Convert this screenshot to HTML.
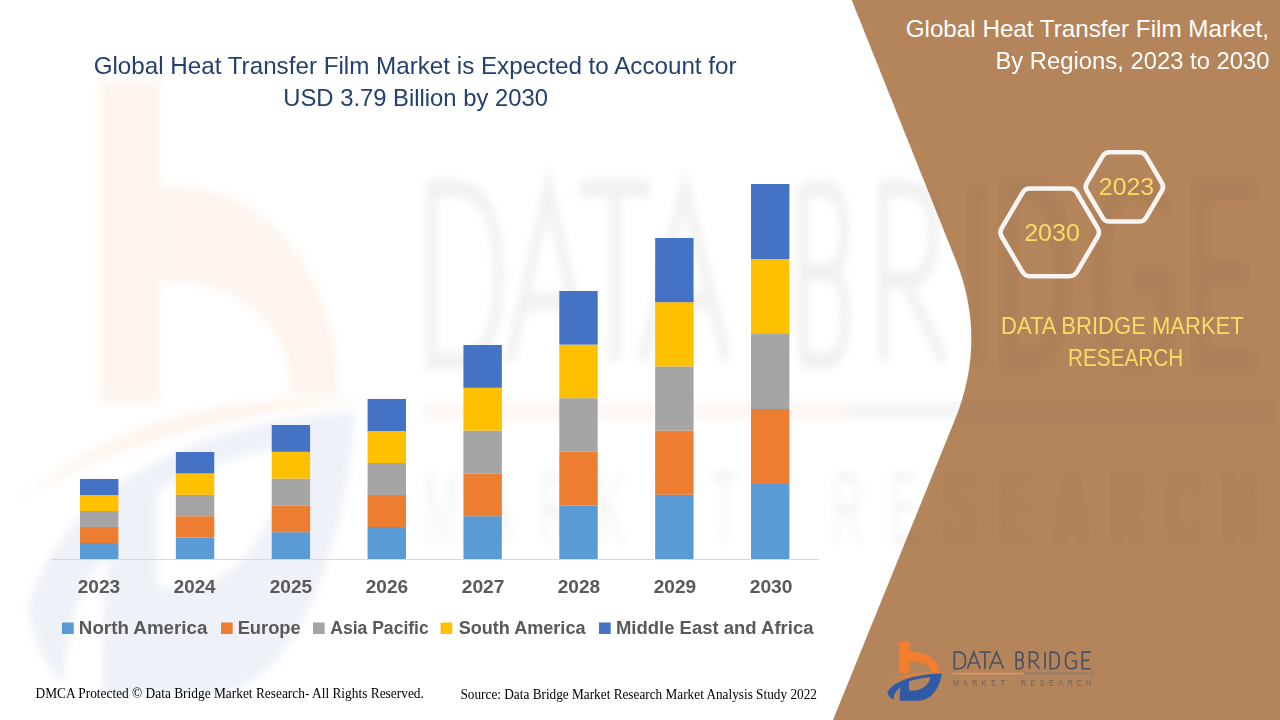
<!DOCTYPE html>
<html><head><meta charset="utf-8">
<style>
html,body{margin:0;padding:0;background:#fff;width:1280px;height:720px;overflow:hidden}
svg{display:block}
</style></head>
<body>
<svg width="1280" height="720" viewBox="0 0 1280 720">
<defs>
<filter id="wmblur" x="-5%" y="-5%" width="110%" height="110%"><feGaussianBlur stdDeviation="4"/></filter>
<g id="logo">
<rect x="899.4" y="641.7" width="10" height="31" fill="#F47E2E"/>
<path d="M909.4,652 C926,651 939,660 939,672 L931,672 C931,665 923,661 909.4,661 Z" fill="#F47E2E"/>
<path d="M885,682.5 C900,675 920,671.5 944,672.5 C920,674 900,677 885,682.5 Z" fill="#F47E2E"/>
<path fill-rule="evenodd" fill="#2F5AA6" d="M887.3,692.6 C893,681 915,674.5 941.8,673.6 C940,688 931,700.8 918,700.8 L899.7,700.8 C899.5,696 900,691 900.7,687.5 C896,690 893.5,695 893.5,700 C890,698 888,695.5 887.3,692.6 Z M908.9,681.3 C916,679 924,677.5 930.5,677.2 C928.5,685.5 922,690.6 912,690.6 L908.9,690.6 Z"/>

<rect x="952.9" y="672.8" width="70.8" height="1.5" fill="#E8956A"/>
<rect x="1023.7" y="672.8" width="70.2" height="1.5" fill="#7B7F8E"/>
<g font-family="Liberation Sans" font-size="9.8" fill="#6A6565" text-anchor="middle">
<text transform="translate(956 686.3) scale(0.72 1)">M</text><text transform="translate(965.4 686.3) scale(0.72 1)">A</text><text transform="translate(974.8 686.3) scale(0.72 1)">R</text><text transform="translate(984.2 686.3) scale(0.72 1)">K</text><text transform="translate(993.6 686.3) scale(0.72 1)">E</text><text transform="translate(1003 686.3) scale(0.72 1)">T</text>
<text transform="translate(1023.5 686.3) scale(0.72 1)">R</text><text transform="translate(1032.8 686.3) scale(0.72 1)">E</text><text transform="translate(1042.1 686.3) scale(0.72 1)">S</text><text transform="translate(1051.4 686.3) scale(0.72 1)">E</text><text transform="translate(1060.7 686.3) scale(0.72 1)">A</text><text transform="translate(1070 686.3) scale(0.72 1)">R</text><text transform="translate(1079.3 686.3) scale(0.72 1)">C</text><text transform="translate(1088.6 686.3) scale(0.72 1)">H</text>
</g>

</g>
</defs>
<rect width="1280" height="720" fill="#FFFFFF"/>
<path d="M851.7,0 L1280,0 L1280,720 L833,720 L954.8,420 Q987.5,339.5 955.7,260 Z" fill="#B4845A"/>

<g opacity="0.08" filter="url(#wmblur)"><g transform="matrix(6.02 0 0 10.37 -5314 -6574)"><use href="#logo"/><g fill="none" stroke="#505358" stroke-width="1.65" stroke-linejoin="miter">
<path d="M954.35,652.15 L958.5,652.15 C963.5,652.15 965.55,655.5 965.55,660.45 C965.55,665.4 963.5,668.75 958.5,668.75 L954.35,668.75 Z"/>
<path d="M967.4,668.75 L973.8,652.15 L980.2,668.75 M969.9,663 L977.7,663"/>
<path d="M979.1,652.15 L990.7,652.15 M984.9,652.15 L984.9,668.75"/>
<path d="M989.5,668.75 L996.5,652.15 L1003.5,668.75 M992,663 L1001,663"/>
<path d="M1016.15,652.15 L1016.15,668.75 M1016.15,652.15 L1019.5,652.15 C1022,652.15 1023,654 1023,656.3 C1023,658.7 1021.8,660.2 1019.5,660.2 L1016.15,660.2 M1016.15,660.2 L1019.8,660.2 C1022.5,660.2 1023.15,662.3 1023.15,664.5 C1023.15,667 1022,668.75 1019.5,668.75 L1016.15,668.75"/>
<path d="M1029.45,668.75 L1029.45,652.15 L1033.5,652.15 C1036.5,652.15 1037.8,654.2 1037.8,656.5 C1037.8,659 1036.3,661 1033.5,661 L1029.45,661 M1033,661 L1039.6,668.75"/>
<path d="M1045.05,652.15 L1045.05,668.75"/>
<path d="M1050.35,652.15 L1053.5,652.15 C1057.5,652.15 1059.25,655.5 1059.25,660.45 C1059.25,665.4 1057.5,668.75 1053.5,668.75 L1050.35,668.75 Z"/>
<path d="M1076,654.5 C1074.8,652.8 1073,652.15 1071,652.15 C1067,652.15 1065.45,655.8 1065.45,660.45 C1065.45,665.2 1067,668.75 1071,668.75 C1073.5,668.75 1076.25,667.8 1076.25,667 L1076.25,661 L1071.5,661"/>
<path d="M1090.9,652.15 L1082.25,652.15 L1082.25,668.75 L1090.9,668.75 M1082.25,660.3 L1089.5,660.3"/>
</g></g></g>

<rect x="80.0" y="543.00" width="38.4" height="16.00" fill="#5B9BD5"/>
<rect x="80.0" y="527.00" width="38.4" height="16.00" fill="#ED7D31"/>
<rect x="80.0" y="511.00" width="38.4" height="16.00" fill="#A5A5A5"/>
<rect x="80.0" y="495.00" width="38.4" height="16.00" fill="#FFC000"/>
<rect x="80.0" y="479.00" width="38.4" height="16.00" fill="#4472C4"/>
<rect x="175.86" y="537.60" width="38.4" height="21.40" fill="#5B9BD5"/>
<rect x="175.86" y="516.20" width="38.4" height="21.40" fill="#ED7D31"/>
<rect x="175.86" y="494.80" width="38.4" height="21.40" fill="#A5A5A5"/>
<rect x="175.86" y="473.40" width="38.4" height="21.40" fill="#FFC000"/>
<rect x="175.86" y="452.00" width="38.4" height="21.40" fill="#4472C4"/>
<rect x="271.72" y="532.20" width="38.4" height="26.80" fill="#5B9BD5"/>
<rect x="271.72" y="505.40" width="38.4" height="26.80" fill="#ED7D31"/>
<rect x="271.72" y="478.60" width="38.4" height="26.80" fill="#A5A5A5"/>
<rect x="271.72" y="451.80" width="38.4" height="26.80" fill="#FFC000"/>
<rect x="271.72" y="425.00" width="38.4" height="26.80" fill="#4472C4"/>
<rect x="367.58" y="527.00" width="38.4" height="32.00" fill="#5B9BD5"/>
<rect x="367.58" y="495.00" width="38.4" height="32.00" fill="#ED7D31"/>
<rect x="367.58" y="463.00" width="38.4" height="32.00" fill="#A5A5A5"/>
<rect x="367.58" y="431.00" width="38.4" height="32.00" fill="#FFC000"/>
<rect x="367.58" y="399.00" width="38.4" height="32.00" fill="#4472C4"/>
<rect x="463.44" y="516.20" width="38.4" height="42.80" fill="#5B9BD5"/>
<rect x="463.44" y="473.40" width="38.4" height="42.80" fill="#ED7D31"/>
<rect x="463.44" y="430.60" width="38.4" height="42.80" fill="#A5A5A5"/>
<rect x="463.44" y="387.80" width="38.4" height="42.80" fill="#FFC000"/>
<rect x="463.44" y="345.00" width="38.4" height="42.80" fill="#4472C4"/>
<rect x="559.3" y="505.40" width="38.4" height="53.60" fill="#5B9BD5"/>
<rect x="559.3" y="451.80" width="38.4" height="53.60" fill="#ED7D31"/>
<rect x="559.3" y="398.20" width="38.4" height="53.60" fill="#A5A5A5"/>
<rect x="559.3" y="344.60" width="38.4" height="53.60" fill="#FFC000"/>
<rect x="559.3" y="291.00" width="38.4" height="53.60" fill="#4472C4"/>
<rect x="655.16" y="494.80" width="38.4" height="64.20" fill="#5B9BD5"/>
<rect x="655.16" y="430.60" width="38.4" height="64.20" fill="#ED7D31"/>
<rect x="655.16" y="366.40" width="38.4" height="64.20" fill="#A5A5A5"/>
<rect x="655.16" y="302.20" width="38.4" height="64.20" fill="#FFC000"/>
<rect x="655.16" y="238.00" width="38.4" height="64.20" fill="#4472C4"/>
<rect x="751.02" y="484.00" width="38.4" height="75.00" fill="#5B9BD5"/>
<rect x="751.02" y="409.00" width="38.4" height="75.00" fill="#ED7D31"/>
<rect x="751.02" y="334.00" width="38.4" height="75.00" fill="#A5A5A5"/>
<rect x="751.02" y="259.00" width="38.4" height="75.00" fill="#FFC000"/>
<rect x="751.02" y="184.00" width="38.4" height="75.00" fill="#4472C4"/>
<rect x="51" y="559" width="768" height="1" fill="#D9D9D9"/>
<rect x="62" y="622.5" width="11.7" height="11.5" fill="#5B9BD5"/>
<rect x="221" y="622.5" width="11.7" height="11.5" fill="#ED7D31"/>
<rect x="313" y="622.5" width="11.7" height="11.5" fill="#A5A5A5"/>
<rect x="440.6" y="622.5" width="11.7" height="11.5" fill="#FFC000"/>
<rect x="599" y="622.5" width="11.7" height="11.5" fill="#4472C4"/>
<g fill="none" stroke="#F7F4F1" stroke-width="4.6">
<path d="M1001.74,236.71 Q999.20,232.40 1001.73,228.09 L1022.47,192.81 Q1025.00,188.50 1030.00,188.50 L1069.40,188.50 Q1074.40,188.50 1076.93,192.81 L1097.67,228.09 Q1100.20,232.40 1097.66,236.71 L1076.94,271.89 Q1074.40,276.20 1069.40,276.20 L1030.00,276.20 Q1025.00,276.20 1022.46,271.89 Z"/>
<path d="M1086.79,190.78 Q1084.50,186.90 1086.78,183.02 L1102.62,156.08 Q1104.90,152.20 1109.40,152.20 L1139.30,152.20 Q1143.80,152.20 1146.08,156.08 L1161.92,183.02 Q1164.20,186.90 1161.91,190.78 L1146.09,217.62 Q1143.80,221.50 1139.30,221.50 L1109.40,221.50 Q1104.90,221.50 1102.61,217.62 Z"/>
</g>

<use href="#logo"/>
<g fill="none" stroke="#4A5160" stroke-width="1.7" stroke-linejoin="miter">
<path d="M954.35,652.15 L958.5,652.15 C963.5,652.15 965.55,655.5 965.55,660.45 C965.55,665.4 963.5,668.75 958.5,668.75 L954.35,668.75 Z"/>
<path d="M967.4,668.75 L973.8,652.15 L980.2,668.75 M969.9,663 L977.7,663"/>
<path d="M979.1,652.15 L990.7,652.15 M984.9,652.15 L984.9,668.75"/>
<path d="M989.5,668.75 L996.5,652.15 L1003.5,668.75 M992,663 L1001,663"/>
<path d="M1016.15,652.15 L1016.15,668.75 M1016.15,652.15 L1019.5,652.15 C1022,652.15 1023,654 1023,656.3 C1023,658.7 1021.8,660.2 1019.5,660.2 L1016.15,660.2 M1016.15,660.2 L1019.8,660.2 C1022.5,660.2 1023.15,662.3 1023.15,664.5 C1023.15,667 1022,668.75 1019.5,668.75 L1016.15,668.75"/>
<path d="M1029.45,668.75 L1029.45,652.15 L1033.5,652.15 C1036.5,652.15 1037.8,654.2 1037.8,656.5 C1037.8,659 1036.3,661 1033.5,661 L1029.45,661 M1033,661 L1039.6,668.75"/>
<path d="M1045.05,652.15 L1045.05,668.75"/>
<path d="M1050.35,652.15 L1053.5,652.15 C1057.5,652.15 1059.25,655.5 1059.25,660.45 C1059.25,665.4 1057.5,668.75 1053.5,668.75 L1050.35,668.75 Z"/>
<path d="M1076,654.5 C1074.8,652.8 1073,652.15 1071,652.15 C1067,652.15 1065.45,655.8 1065.45,660.45 C1065.45,665.2 1067,668.75 1071,668.75 C1073.5,668.75 1076.25,667.8 1076.25,667 L1076.25,661 L1071.5,661"/>
<path d="M1090.9,652.15 L1082.25,652.15 L1082.25,668.75 L1090.9,668.75 M1082.25,660.3 L1089.5,660.3"/>
</g>
<text transform="translate(93.67 74.00) scale(1.0009 1)" font-family="Liberation Sans" font-weight="normal" font-size="24.18" fill="#24406F">Global Heat Transfer Film Market is Expected to Account for</text>
<text transform="translate(283.31 105.70) scale(1.0027 1)" font-family="Liberation Sans" font-weight="normal" font-size="23.75" fill="#24406F">USD 3.79 Billion by 2030</text>
<text transform="translate(905.66 36.80) scale(1.0145 1)" font-family="Liberation Sans" font-weight="normal" font-size="23.89" fill="#FFFFFF">Global Heat Transfer Film Market,</text>
<text transform="translate(995.44 69.00) scale(0.9853 1)" font-family="Liberation Sans" font-weight="normal" font-size="24.18" fill="#FFFFFF">By Regions, 2023 to 2030</text>
<text transform="translate(1024.23 241.00) scale(1.0585 1)" font-family="Liberation Sans" font-weight="normal" font-size="23.61" fill="#FFD966">2030</text>
<text transform="translate(1098.84 195.20) scale(1.0461 1)" font-family="Liberation Sans" font-weight="normal" font-size="23.75" fill="#FFD966">2023</text>
<text transform="translate(1000.98 334.20) scale(0.8961 1)" font-family="Liberation Sans" font-weight="normal" font-size="24.60" fill="#FFD966">DATA BRIDGE MARKET</text>
<text transform="translate(1068.08 365.80) scale(0.8722 1)" font-family="Liberation Sans" font-weight="normal" font-size="23.75" fill="#FFD966">RESEARCH</text>
<text transform="translate(78.83 633.70) scale(1.0393 1)" font-family="Liberation Sans" font-weight="bold" font-size="18.06" fill="#595959">North America</text>
<text transform="translate(237.66 633.70) scale(1.0141 1)" font-family="Liberation Sans" font-weight="bold" font-size="18.06" fill="#595959">Europe</text>
<text transform="translate(330.23 633.70) scale(0.9724 1)" font-family="Liberation Sans" font-weight="bold" font-size="18.06" fill="#595959">Asia Pacific</text>
<text transform="translate(458.72 633.70) scale(1.0008 1)" font-family="Liberation Sans" font-weight="bold" font-size="18.06" fill="#595959">South America</text>
<text transform="translate(615.94 633.70) scale(1.0239 1)" font-family="Liberation Sans" font-weight="bold" font-size="18.06" fill="#595959">Middle East and Africa</text>
<text transform="translate(35.49 698.20) scale(0.9241 1)" font-family="Liberation Serif" font-weight="normal" font-size="14.48" fill="#000000">DMCA Protected © Data Bridge Market Research- All Rights Reserved.</text>
<text transform="translate(460.47 699.30) scale(0.9166 1)" font-family="Liberation Serif" font-weight="normal" font-size="14.48" fill="#000000">Source: Data Bridge Market Research Market Analysis Study 2022</text>
<text transform="translate(77.70 593.00) scale(1.0488 1)" font-family="Liberation Sans" font-weight="bold" font-size="18.20" fill="#595959">2023</text>
<text transform="translate(173.71 593.00) scale(1.0339 1)" font-family="Liberation Sans" font-weight="bold" font-size="18.20" fill="#595959">2024</text>
<text transform="translate(269.70 593.00) scale(1.0488 1)" font-family="Liberation Sans" font-weight="bold" font-size="18.20" fill="#595959">2025</text>
<text transform="translate(365.70 593.00) scale(1.0488 1)" font-family="Liberation Sans" font-weight="bold" font-size="18.20" fill="#595959">2026</text>
<text transform="translate(461.70 593.00) scale(1.0564 1)" font-family="Liberation Sans" font-weight="bold" font-size="18.20" fill="#595959">2027</text>
<text transform="translate(557.70 593.00) scale(1.0488 1)" font-family="Liberation Sans" font-weight="bold" font-size="18.20" fill="#595959">2028</text>
<text transform="translate(653.70 593.00) scale(1.0488 1)" font-family="Liberation Sans" font-weight="bold" font-size="18.20" fill="#595959">2029</text>
<text transform="translate(749.70 593.00) scale(1.0564 1)" font-family="Liberation Sans" font-weight="bold" font-size="18.20" fill="#595959">2030</text>
</svg>
</body></html>
